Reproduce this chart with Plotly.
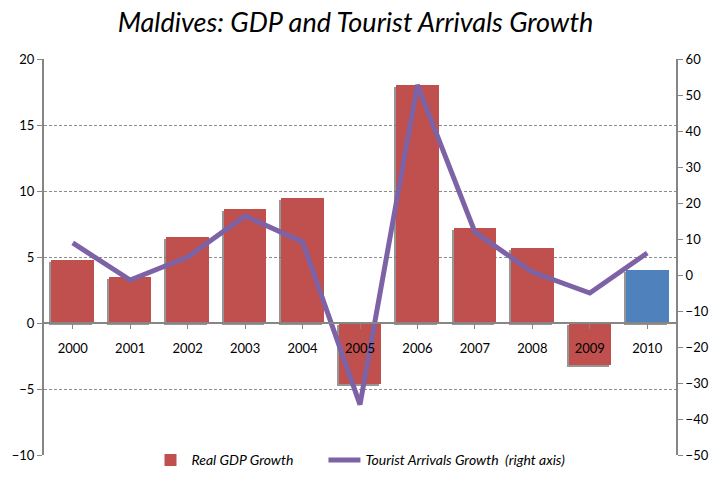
import plotly.graph_objects as go

# Annual growth, percent
years = ["2000", "2001", "2002", "2003", "2004", "2005",
         "2006", "2007", "2008", "2009", "2010"]
gdp_growth = [4.8, 3.5, 6.5, 8.6, 9.5, -4.6, 18.0, 7.2, 5.7, -3.2, 4.0]
tourist_growth = [8.9, -1.4, 5.0, 16.4, 9.2, -36.0, 52.8, 11.9, 0.8, -5.0, 6.1]

# 2010 is an estimate, shown in blue
bar_colors = ["#C0504D"] * (len(years) - 1) + ["#4F81BD"]

font_family = "Lato, 'Open Sans', sans-serif"
bar_w = 0.74
idx = list(range(len(years)))

fig = go.Figure()

# soft drop shadow under each bar (shifted left and down)
fig.add_trace(go.Bar(
    x=idx, y=gdp_growth, base=[-0.15] * len(years),
    width=bar_w, offset=-bar_w / 2 - 0.035,
    marker=dict(color="rgba(105,105,105,0.7)", line=dict(width=0)),
    hoverinfo="skip", showlegend=False,
))
fig.add_trace(go.Bar(
    x=idx, y=gdp_growth, width=bar_w, offset=-bar_w / 2,
    marker=dict(color=bar_colors, line=dict(width=0)),
    name="<i>Real GDP Growth</i>" + "\u00a0" * 7,
))
fig.add_trace(go.Scatter(
    x=idx, y=tourist_growth, yaxis="y2", mode="lines",
    line=dict(color="#7E62A6", width=5),
    name="<i>Tourist Arrivals Growth  (right axis)</i>",
))

axis_grey = "#868686"

fig.update_layout(
    width=711, height=494,
    margin=dict(l=44, r=35, t=59, b=39, autoexpand=False),
    paper_bgcolor="white", plot_bgcolor="white",
    barmode="overlay", bargap=0,
    font=dict(family=font_family, size=13, color="#000000"),
    title=dict(
        text="<i>Maldives: GDP and Tourist Arrivals Growth</i>",
        x=0.5, xanchor="center", y=0.955, yanchor="middle",
        font=dict(family=font_family, size=27, color="#000000"),
    ),
    xaxis=dict(
        tickmode="array", tickvals=idx, ticktext=years,
        range=[-0.5, len(years) - 0.5],
        anchor="free", position=1 / 3,
        showline=True, linecolor=axis_grey, linewidth=2,
        ticks="outside", ticklen=5, tickcolor=axis_grey,
        showgrid=False, zeroline=False,
        tickfont=dict(size=13), ticklabelstandoff=8,
    ),
    yaxis=dict(
        range=[-10, 20], dtick=5,
        showline=True, linecolor=axis_grey, linewidth=2,
        ticks="outside", ticklen=5, tickcolor=axis_grey,
        showgrid=True, gridcolor="#8C8C8C", griddash="3px,2px", gridwidth=1,
        zeroline=False, tickfont=dict(size=13),
    ),
    yaxis2=dict(
        range=[-50, 60], dtick=10, overlaying="y", side="right",
        showline=True, linecolor=axis_grey, linewidth=2,
        ticks="outside", ticklen=5, tickcolor=axis_grey,
        showgrid=False, zeroline=False, tickfont=dict(size=13),
    ),
    legend=dict(
        orientation="h", x=0.5, xanchor="center",
        yref="container", y=0.068, yanchor="middle",
        font=dict(size=14, family=font_family), itemwidth=32,
        traceorder="normal",
    ),
)

fig.write_html("out.html")
